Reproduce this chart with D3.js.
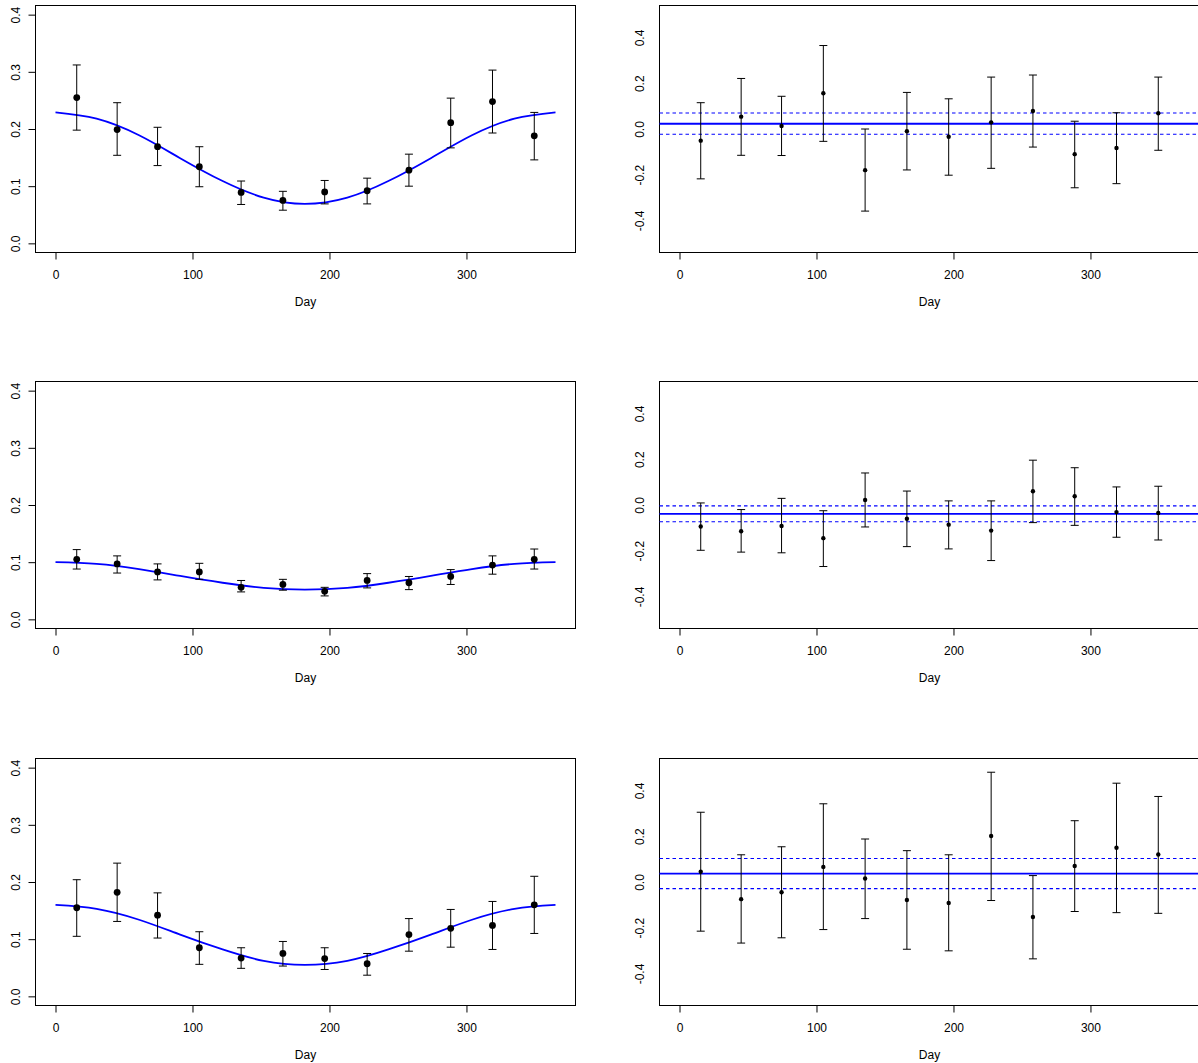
<!DOCTYPE html>
<html>
<head>
<meta charset="utf-8">
<script src="https://cdn.jsdelivr.net/npm/d3@7"></script>
<style>
  body { margin: 0; background: #fff; }
  svg { display: block; font-family: "Liberation Sans", Arial, Helvetica, sans-serif; }
</style>
</head>
<body>
<div id="chart"></div>
<script>
// sampling days (mid-month) and axis ticks
var days = [15.5, 45, 74.5, 105, 135.5, 166, 196.5, 227.5, 258, 288.5, 319, 349.5];
var fitDays = [0, 30, 61, 91, 122, 152, 182, 213, 243, 274, 304, 335, 365];
var xTicks = [0, 100, 200, 300];
var leftTicks = [0, 0.1, 0.2, 0.3, 0.4];
var rightTicks = [-0.4, -0.2, 0, 0.2, 0.4];

// left column: estimates with intervals and the seasonal fit
var est1 = [0.255, 0.199, 0.169, 0.134, 0.089, 0.075, 0.090, 0.092, 0.128, 0.211, 0.248, 0.188];
var lo1  = [0.198, 0.154, 0.136, 0.099, 0.068, 0.058, 0.069, 0.069, 0.100, 0.167, 0.193, 0.146];
var hi1  = [0.312, 0.246, 0.203, 0.169, 0.109, 0.091, 0.110, 0.114, 0.156, 0.254, 0.303, 0.229];
var fit1 = [0.229, 0.218, 0.189, 0.149, 0.109, 0.080, 0.069, 0.080, 0.109, 0.149, 0.189, 0.218, 0.229];

var est2 = [0.105, 0.097, 0.083, 0.083, 0.056, 0.061, 0.049, 0.068, 0.064, 0.075, 0.095, 0.105];
var lo2  = [0.088, 0.081, 0.069, 0.070, 0.048, 0.051, 0.041, 0.055, 0.052, 0.061, 0.079, 0.088];
var hi2  = [0.122, 0.111, 0.097, 0.098, 0.068, 0.070, 0.056, 0.080, 0.075, 0.087, 0.111, 0.123];
var fit2 = [0.100, 0.097, 0.088, 0.076, 0.064, 0.055, 0.052, 0.055, 0.064, 0.076, 0.088, 0.097, 0.100];

var est3 = [0.155, 0.182, 0.142, 0.085, 0.067, 0.075, 0.066, 0.057, 0.108, 0.119, 0.124, 0.160];
var lo3  = [0.105, 0.131, 0.102, 0.056, 0.049, 0.053, 0.047, 0.037, 0.079, 0.086, 0.082, 0.110];
var hi3  = [0.204, 0.233, 0.181, 0.113, 0.085, 0.096, 0.085, 0.075, 0.136, 0.152, 0.166, 0.210];
var fit3 = [0.160, 0.153, 0.134, 0.108, 0.082, 0.062, 0.055, 0.062, 0.082, 0.108, 0.134, 0.153, 0.160];

// right column: residuals with intervals, and the level with its band [centre, lower, upper]
var res1   = [-0.051, 0.054, 0.013, 0.156, -0.180, -0.010, -0.034, 0.029, 0.079, -0.110, -0.083, 0.069];
var resLo1 = [-0.218, -0.115, -0.116, -0.054, -0.359, -0.179, -0.202, -0.172, -0.079, -0.257, -0.239, -0.093];
var resHi1 = [0.115, 0.221, 0.143, 0.365, 0.000, 0.160, 0.132, 0.227, 0.236, 0.034, 0.071, 0.227];
var level1 = [0.023, -0.023, 0.070];

var res2   = [-0.094, -0.115, -0.092, -0.145, 0.022, -0.060, -0.086, -0.112, 0.060, 0.038, -0.031, -0.035];
var resLo2 = [-0.198, -0.206, -0.209, -0.269, -0.096, -0.182, -0.192, -0.243, -0.077, -0.089, -0.141, -0.153];
var resHi2 = [0.009, -0.020, 0.029, -0.025, 0.140, 0.061, 0.018, 0.018, 0.196, 0.163, 0.079, 0.082];
var level2 = [-0.039, -0.073, -0.004];

var res3   = [0.045, -0.075, -0.045, 0.066, 0.015, -0.079, -0.092, 0.201, -0.153, 0.070, 0.150, 0.120];
var resLo3 = [-0.215, -0.267, -0.244, -0.208, -0.160, -0.294, -0.301, -0.081, -0.336, -0.129, -0.134, -0.137];
var resHi3 = [0.305, 0.119, 0.154, 0.342, 0.188, 0.137, 0.119, 0.480, 0.028, 0.268, 0.432, 0.374];
var level3 = [0.037, -0.029, 0.103];

var leftPanels = [
  {est: est1, lo: lo1, hi: hi1, fit: fit1},
  {est: est2, lo: lo2, hi: hi2, fit: fit2},
  {est: est3, lo: lo3, hi: hi3, fit: fit3}
];
var rightPanels = [
  {est: res1, lo: resLo1, hi: resHi1, level: level1},
  {est: res2, lo: resLo2, hi: resHi2, level: level2},
  {est: res3, lo: resLo3, hi: resHi3, level: level3}
];

var W = 1198, H = 1063;
var rowOffsets = [0, 376, 753];
var colLeft = [35.5, 659.5];
var boxW = 540, boxTop = 5.5, boxH = 247;
var fontSize = 12;

var svg = d3.select("#chart").append("svg")
  .attr("width", W)
  .attr("height", H);

function drawFrame(g, x, y, yTicks, yFmt, yGap, yTickLen) {
  g.append("rect")
    .attr("x", x.range()[0])
    .attr("y", y.range()[1])
    .attr("width", boxW)
    .attr("height", boxH)
    .attr("fill", "none")
    .attr("stroke", "#000")
    .attr("stroke-width", 1);

  var xa = g.append("g")
    .attr("transform", "translate(0," + y.range()[0] + ")")
    .call(d3.axisBottom(x).tickValues(xTicks).tickSize(7).tickPadding(11).tickFormat(d3.format("d")));
  xa.select(".domain").remove();
  xa.append("line")
    .attr("x1", x(xTicks[0])).attr("x2", x(xTicks[xTicks.length - 1]))
    .attr("stroke", "#000");
  xa.attr("font-size", fontSize).attr("font-family", null);
  xa.selectAll("text").attr("fill", "#000");

  var ya = g.append("g")
    .attr("transform", "translate(" + x.range()[0] + ",0)")
    .call(d3.axisLeft(y).tickValues(yTicks).tickSize(yTickLen).tickFormat(yFmt));
  ya.select(".domain").remove();
  if (yTickLen > 0) {
    ya.append("line")
      .attr("y1", y(yTicks[0])).attr("y2", y(yTicks[yTicks.length - 1]))
      .attr("stroke", "#000");
  }
  ya.attr("font-size", fontSize).attr("font-family", null);
  ya.selectAll("text")
    .attr("fill", "#000")
    .attr("transform", "rotate(-90)")
    .attr("x", 0)
    .attr("y", -yGap)
    .attr("dy", 0)
    .attr("text-anchor", "middle");

  g.append("text")
    .attr("x", x.range()[0] + boxW / 2)
    .attr("y", y.range()[0] + 53)
    .attr("text-anchor", "middle")
    .attr("font-size", fontSize)
    .text("Day");
}

function drawBars(g, x, y, p, r) {
  var bars = g.append("g").selectAll("g")
    .data(days.map(function(d, i) { return {day: d, est: p.est[i], lo: p.lo[i], hi: p.hi[i]}; }))
    .enter().append("g");
  bars.append("line")
    .attr("x1", function(d) { return x(d.day); })
    .attr("x2", function(d) { return x(d.day); })
    .attr("y1", function(d) { return y(d.lo); })
    .attr("y2", function(d) { return y(d.hi); })
    .attr("stroke", "#000");
  bars.append("line")
    .attr("x1", function(d) { return x(d.day) - 4; })
    .attr("x2", function(d) { return x(d.day) + 4; })
    .attr("y1", function(d) { return y(d.lo); })
    .attr("y2", function(d) { return y(d.lo); })
    .attr("stroke", "#000");
  bars.append("line")
    .attr("x1", function(d) { return x(d.day) - 4; })
    .attr("x2", function(d) { return x(d.day) + 4; })
    .attr("y1", function(d) { return y(d.hi); })
    .attr("y2", function(d) { return y(d.hi); })
    .attr("stroke", "#000");
  bars.append("circle")
    .attr("cx", function(d) { return x(d.day); })
    .attr("cy", function(d) { return y(d.est); })
    .attr("r", r)
    .attr("fill", "#000");
}

rowOffsets.forEach(function(off, row) {
  // left: estimates and seasonal fit
  var xl = d3.scaleLinear().domain([-14.6, 379.6]).range([colLeft[0], colLeft[0] + boxW]);
  var yl = d3.scaleLinear().domain([-0.016, 0.416]).range([off + boxTop + boxH, off + boxTop]);
  var gl = svg.append("g");
  drawFrame(gl, xl, yl, leftTicks, d3.format(".1f"), 16, 7);

  var p = leftPanels[row];
  gl.append("path")
    .datum(fitDays.map(function(d, i) { return [d, p.fit[i]]; }))
    .attr("fill", "none")
    .attr("stroke", "#0000ff")
    .attr("stroke-width", 1.8)
    .attr("d", d3.line()
      .x(function(d) { return xl(d[0]); })
      .y(function(d) { return yl(d[1]); })
      .curve(d3.curveNatural));
  drawBars(gl, xl, yl, p, 3.4);

  // right: residuals around the fitted level
  var xr = d3.scaleLinear().domain([-14.6, 379.6]).range([colLeft[1], colLeft[1] + boxW]);
  var yr = d3.scaleLinear().domain([-0.54, 0.54]).range([off + boxTop + boxH, off + boxTop]);
  var gr = svg.append("g");
  drawFrame(gr, xr, yr, rightTicks, function(d) { return d3.format(".1f")(d).replace("\u2212", "-"); }, 16, 0);

  var q = rightPanels[row];
  gr.append("line")
    .attr("x1", xr.range()[0]).attr("x2", xr.range()[1])
    .attr("y1", yr(q.level[0])).attr("y2", yr(q.level[0]))
    .attr("stroke", "#0000ff")
    .attr("stroke-width", 1.8);
  gr.selectAll(".band")
    .data([q.level[1], q.level[2]])
    .enter().append("line")
    .attr("class", "band")
    .attr("x1", xr.range()[0]).attr("x2", xr.range()[1])
    .attr("y1", function(d) { return yr(d); })
    .attr("y2", function(d) { return yr(d); })
    .attr("stroke", "#0000ff")
    .attr("stroke-width", 1.1)
    .attr("stroke-dasharray", "3.5,3");
  drawBars(gr, xr, yr, q, 2.2);
});
</script>
</body>
</html>
